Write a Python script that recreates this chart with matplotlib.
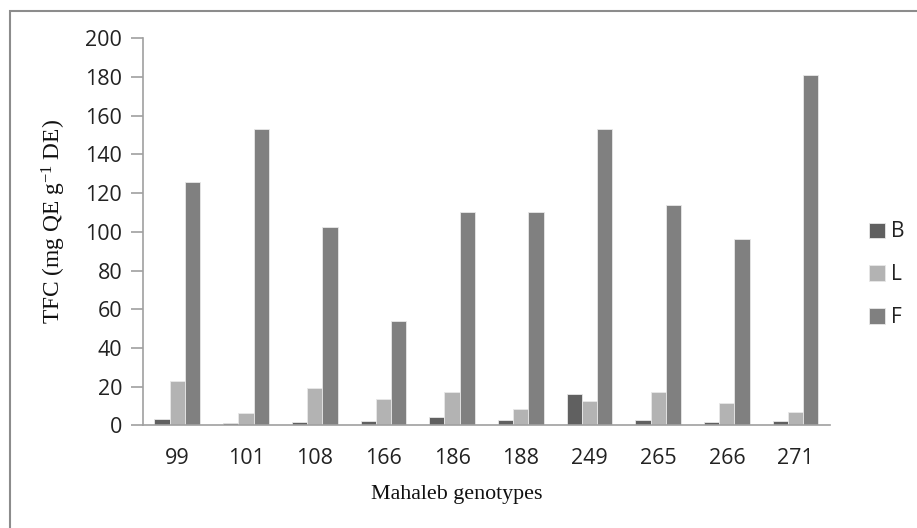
import matplotlib
matplotlib.use("Agg")
import matplotlib.pyplot as plt
import numpy as np
from matplotlib.patches import Rectangle

genotypes = ["99", "101", "108", "166", "186", "188", "249", "265", "266", "271"]
B = [3.5, 1.2, 1.8, 2.3, 4.2, 2.8, 16.2, 2.8, 1.6, 2.2]
L = [22.9, 6.6, 19.2, 13.8, 17.4, 8.3, 12.6, 17.4, 11.4, 7.1]
F = [125.9, 153.2, 102.4, 54.1, 110.1, 110.1, 153.2, 113.9, 96.3, 180.9]
series_names = ["B", "L", "F"]
series_colors = ["#606060", "#b3b3b3", "#808080"]
yticks = [0, 20, 40, 60, 80, 100, 120, 140, 160, 180, 200]

plt.rcParams["mathtext.fontset"] = "custom"
plt.rcParams["mathtext.rm"] = "Liberation Serif"
plt.rcParams["mathtext.it"] = "Liberation Serif:italic"

fig = plt.figure(figsize=(9.17, 5.28), dpi=100)
ax = fig.add_axes([0.156, 0.1943, 0.749, 0.7332])

x = np.arange(len(genotypes))
bw = 1 / 4.5
for i, (vals, name, col) in enumerate(zip([B, L, F], series_names, series_colors)):
    ax.bar(x + (i - 1) * bw, vals, width=bw, color=col, edgecolor="#e8e8e8",
           linewidth=0.6, label=name, zorder=2)

ax.set_xlim(-0.5, len(genotypes) - 0.5)
ax.set_ylim(0, 200)
ax.set_yticks(yticks)
ax.set_xticks(x)
ax.set_xticklabels(genotypes)

for s in ["top", "right"]:
    ax.spines[s].set_visible(False)
for s in ["left", "bottom"]:
    ax.spines[s].set_color("#a0a0a0")
    ax.spines[s].set_linewidth(1.2)

ax.tick_params(axis="y", length=9, width=1.2, color="#a0a0a0", labelsize=15.5,
               labelcolor="#222222", pad=6)
ax.tick_params(axis="x", length=0, labelsize=15.5, labelcolor="#222222", pad=16)
for lab in ax.get_xticklabels() + ax.get_yticklabels():
    lab.set_family("Open Sans")

ax.set_ylabel(r"TFC (mg QE g$^{\mathregular{-1}}$ DE)", family="Liberation Serif",
              fontsize=16.8, labelpad=12, color="#111111")
ax.set_xlabel("Mahaleb genotypes", family="Liberation Serif", fontsize=15.8,
              labelpad=14, color="#111111")
ax.xaxis.set_label_coords(0.457, -0.155)
ax.yaxis.set_label_coords(-0.11, 0.526)

leg = ax.legend(loc="center left", bbox_to_anchor=(1.03, 0.389), frameon=False,
                handlelength=0.75, handleheight=0.75, handletextpad=0.3,
                labelspacing=1.05, prop={"family": "Open Sans", "size": 15})
for t in leg.get_texts():
    t.set_color("#222222")

# outer chart frame (only top and left visible)
fig.patches.append(Rectangle((10 / 917, -0.1), 1.2, 1.1 - 11 / 528,
                             transform=fig.transFigure, fill=False,
                             edgecolor="#8c8c8c", linewidth=1.5))

fig.savefig("out.png", dpi=100)
